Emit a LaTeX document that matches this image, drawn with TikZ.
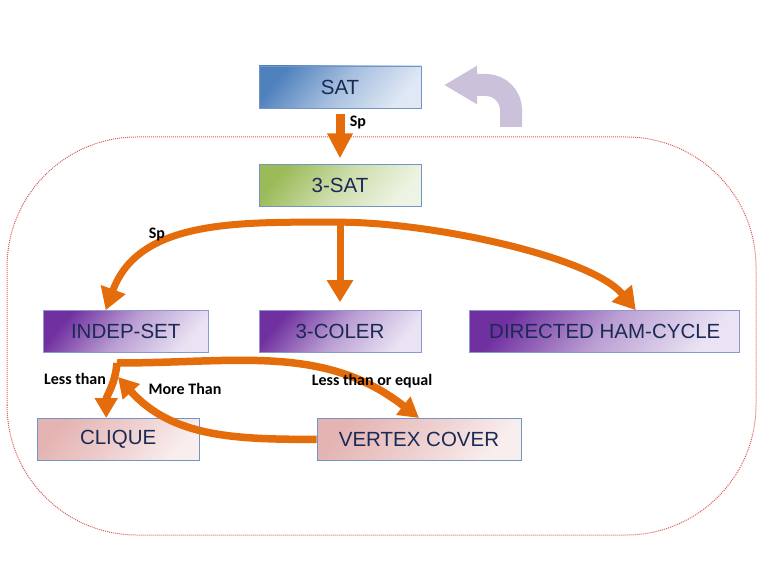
\documentclass[tikz,border=0pt]{standalone}
\usepackage{fontspec}
\setmainfont{Liberation Sans}
\newfontfamily\lblfont{Carlito}
\usetikzlibrary{arrows.meta,positioning,calc}
\definecolor{arrorange}{HTML}{E46C0A}
\definecolor{lavender}{HTML}{CCC1DA}
\definecolor{navytext}{HTML}{1B2A55}
\definecolor{frame}{HTML}{DA5C5C}
\definecolor{blueline}{HTML}{7294C6}
\definecolor{purpleline}{HTML}{8A98CF}
\definecolor{satdark}{HTML}{4F81BD}
\definecolor{satlight}{HTML}{DFE8F4}
\definecolor{greendark}{HTML}{9BBB59}
\definecolor{greenlight}{HTML}{EEF4E3}
\definecolor{purpledark}{HTML}{7030A0}
\definecolor{purplelight}{HTML}{E9E3F3}
\definecolor{pinkdark}{HTML}{E4B4B3}
\definecolor{pinklight}{HTML}{F9EEEE}
\tikzset{
  probbox/.style={draw,line width=0.8pt,minimum height=42pt,inner sep=0pt,text=navytext,
    font=\fontsize{20.5}{24}\selectfont},
  satbox/.style={probbox,draw=blueline,top color=satdark,bottom color=satlight,middle color=satdark!40!satlight,shading angle=50},
  greenbox/.style={probbox,draw=blueline,top color=greendark,bottom color=greenlight,middle color=greendark!40!greenlight,shading angle=50},
  purplebox/.style={probbox,draw=purpleline,top color=purpledark,bottom color=purplelight,middle color=purpledark!38!purplelight,shading angle=50},
  pinkbox/.style={probbox,draw=blueline,top color=pinkdark,bottom color=pinklight,middle color=pinkdark!55!pinklight,shading angle=50},
  redarrow/.style={draw=arrorange,line width=7pt,-{Triangle[length=22pt,width=25pt]}},
  smallarrow/.style={draw=arrorange,line width=7.5pt,-{Triangle[length=20pt,width=22pt]}},
  lbl/.style={font=\lblfont\bfseries\fontsize{16}{18}\selectfont,inner sep=0pt}
}
\begin{document}
\begin{tikzpicture}[x=1pt,y=1pt]
\useasboundingbox[fill=white] (0,0) rectangle (770,563);
% dotted frame round the reductions from 3-SAT
\draw[frame,densely dotted,line width=1pt,rounded corners=130pt] (7,28) rectangle (756,426);

\node[satbox,minimum width=162pt] (sat) at (340,476) {SAT};
\node[greenbox,minimum width=162pt,below=56pt of sat] (tsat) {3-SAT};
\node[purplebox,minimum width=162pt,below=103pt of tsat] (col) {3-COLER};
\node[purplebox,minimum width=165pt,left=50pt of col] (indep) {INDEP-SET};
\node[purplebox,minimum width=270pt,right=48pt of col] (ham) {DIRECTED HAM-CYCLE};
\node[pinkbox,minimum width=162pt,below=65pt of indep,xshift=-7.5pt] (clique) {CLIQUE};
\node[pinkbox,minimum width=204pt,below=65pt of col,xshift=79pt] (vc) {VERTEX COVER};

% SAT to 3-SAT
\draw[draw=arrorange,line width=9pt,-{Triangle[length=25pt,width=24pt]}] ([yshift=-6pt]sat.south) -- ([yshift=6pt]tsat.north);
\node[lbl] at (358,440) {Sp};

% 3-SAT to the three problems
\coordinate (split) at ([yshift=-15pt]tsat.south);
\draw[redarrow] (split) to[out=180,in=70] ([xshift=-20pt]indep.north);
\draw[redarrow,line cap=butt] ([yshift=3.5pt]split) -- ([yshift=8pt]col.north);
\draw[redarrow] (split) .. controls +(90,0) and +(-45,54) .. ([xshift=31pt]ham.north);
\node[lbl] at (157,328) {Sp};

% INDEP-SET, CLIQUE and VERTEX COVER
\coordinate (fork) at (117,200);
\coordinate (back) at (118,186);
\draw[smallarrow] (fork) to[out=-95,in=90] ([xshift=-12pt]clique.north);
\draw[smallarrow] (fork) to[out=0,in=142] (vc.north);
\draw[smallarrow] (vc.west) to[out=180,in=-48] (back);
\node[lbl] at (75,184) {Less than};
\node[lbl] at (185,174) {More Than};
\node[lbl] at (372,182) {Less than or equal};

% turn-back arrow
\coordinate (turnfoot) at (511,436);
\coordinate (turntip) at (444,478);
\draw[lavender,line width=22pt,rounded corners=25pt,-{Triangle[length=33pt,width=36pt]}] (turnfoot) |- (turntip);
\end{tikzpicture}
\end{document}
